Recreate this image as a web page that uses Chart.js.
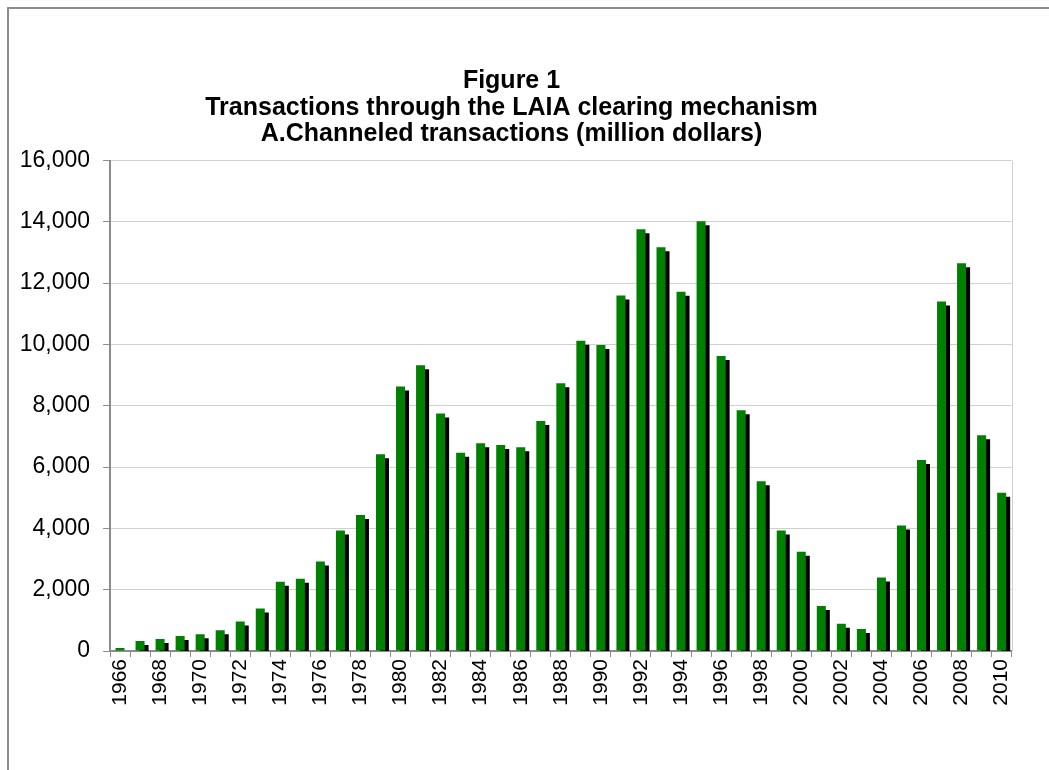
<!DOCTYPE html>
<html>
<head>
<meta charset="utf-8">
<script src="https://cdn.jsdelivr.net/npm/chart.js@4"></script>
<style>
  html, body { margin: 0; padding: 0; background: #fff; overflow: hidden; }
  #frame {
    position: absolute; left: 7px; top: 7px; width: 1100px; height: 800px;
    border-left: 2px solid #8c8c8c; border-top: 2px solid #8c8c8c;
  }
  #wrap { position: absolute; left: 8px; top: 8px; width: 1021px; height: 762px; }
</style>
</head>
<body>
<div id="frame"></div>
<div id="wrap"><canvas id="laia"></canvas></div>
<script>
const years = [
  '1966','1967','1968','1969','1970','1971','1972','1973','1974','1975',
  '1976','1977','1978','1979','1980','1981','1982','1983','1984','1985',
  '1986','1987','1988','1989','1990','1991','1992','1993','1994','1995',
  '1996','1997','1998','1999','2000','2001','2002','2003','2004','2005',
  '2006','2007','2008','2009','2010'
];

// channeled transactions, million dollars
const channeled = [
  100, 330, 390, 490, 550, 680, 965, 1390, 2260, 2360,
  2920, 3930, 4440, 6420, 8630, 9320, 7750, 6470, 6780, 6720,
  6650, 7500, 8730, 10120, 9980, 11600, 13760, 13170, 11720, 14020,
  9620, 7850, 5540, 3930, 3240, 1470, 890, 720, 2400, 4090,
  6230, 11400, 12650, 7040, 5160
];

const yTicks = [0, 2000, 4000, 6000, 8000, 10000, 12000, 14000, 16000];

document.addEventListener('DOMContentLoaded', () => {

  // black drop shadow behind every bar (the old excel look)
  const barShadow = {
    id: 'barShadow',
    beforeDatasetDraw(chart) {
      const ctx = chart.ctx;
      ctx.save();
      ctx.shadowColor = '#000000';
      ctx.shadowOffsetX = 4;
      ctx.shadowOffsetY = 4;
      ctx.shadowBlur = 0;
    },
    afterDatasetDraw(chart) {
      chart.ctx.restore();
    }
  };

  // thin light line on the right side of the plot
  const plotEdge = {
    id: 'plotEdge',
    beforeDatasetsDraw(chart) {
      const a = chart.chartArea;
      const ctx = chart.ctx;
      ctx.save();
      ctx.strokeStyle = '#d0d0d0';
      ctx.lineWidth = 1;
      ctx.beginPath();
      ctx.moveTo(Math.round(a.right) + 0.5, a.top);
      ctx.lineTo(Math.round(a.right) + 0.5, a.bottom);
      ctx.stroke();
      ctx.restore();
    }
  };

  const data = {
    labels: years,
    datasets: [{
      label: 'Channeled transactions',
      data: channeled,
      backgroundColor: '#008000',
      borderWidth: 0,
      categoryPercentage: 1,
      barPercentage: 0.45,
      clip: 0
    }]
  };

  const config = {
    type: 'bar',
    data: data,
    options: {
      responsive: true,
      maintainAspectRatio: false,
      animation: false,
      layout: { padding: { left: 0, right: 14, top: 0, bottom: 0 } },
      plugins: {
        legend: { display: false },
        tooltip: { enabled: false },
        title: {
          display: true,
          text: [
            'Figure 1',
            'Transactions through the LAIA clearing mechanism',
            'A.Channeled transactions (million dollars)'
          ],
          color: '#000',
          font: { family: 'Liberation Sans, Arial, sans-serif', size: 25, weight: 'bold', lineHeight: 1.06 },
          padding: { top: 60, bottom: 13 }
        }
      },
      scales: {
        x: {
          grid: {
            offset: true,
            drawOnChartArea: false,
            drawTicks: true,
            tickLength: 6,
            tickColor: '#8c8c8c'
          },
          border: { color: '#8c8c8c', width: 2 },
          ticks: {
            autoSkip: false,
            minRotation: 90,
            maxRotation: 90,
            padding: 2,
            color: '#000',
            font: { family: 'Liberation Sans, Arial, sans-serif', size: 21 },
            callback: function (value, index) {
              return index % 2 === 0 ? this.getLabelForValue(value) : '';
            }
          },
          afterFit: (scale) => { scale.height = 119; }
        },
        y: {
          min: 0,
          max: 16000,
          grid: {
            color: '#d0d0d0',
            tickColor: '#8c8c8c',
            tickLength: 7
          },
          border: { color: '#8c8c8c', width: 2 },
          afterBuildTicks: (scale) => {
            scale.ticks = yTicks.map(v => ({ value: v }));
          },
          ticks: {
            padding: 13,
            color: '#000',
            font: { family: 'Liberation Sans, Arial, sans-serif', size: 23 },
            callback: (v) => v.toLocaleString('en-US')
          },
          afterFit: (scale) => { scale.width = 102; }
        }
      }
    },
    plugins: [barShadow, plotEdge]
  };

  const laiaChart = new Chart(
    document.getElementById('laia'),
    config
  );
});
</script>
</body>
</html>
